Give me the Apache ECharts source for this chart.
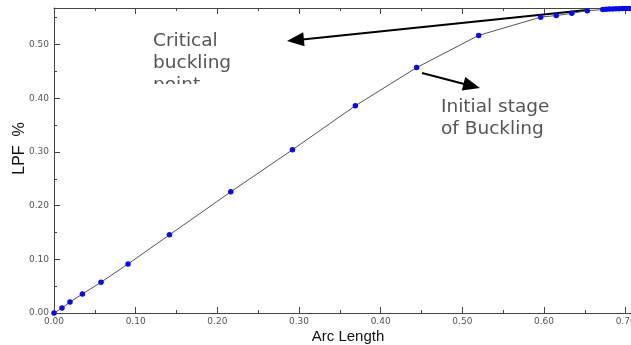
<!DOCTYPE html>
<html>
<head>
<meta charset="utf-8">
<script src="https://cdn.jsdelivr.net/npm/echarts@6/dist/echarts.min.js"></script>
<style>
html,body{margin:0;padding:0;background:#fff;}
#c{width:631px;height:345px;}
</style>
</head>
<body>
<div id="c"></div>
<script>
var arcLength = [0, 0.0098, 0.0196, 0.0348, 0.0576, 0.0907, 0.1414, 0.2165, 0.292, 0.369, 0.444, 0.52, 0.596, 0.615, 0.634, 0.653, 0.672, 0.676, 0.680, 0.684, 0.688, 0.692, 0.696, 0.700, 0.704, 0.708];
var lpf = [0, 0.0093, 0.0205, 0.0354, 0.0572, 0.0914, 0.1455, 0.2257, 0.304, 0.386, 0.457, 0.517, 0.551, 0.554, 0.558, 0.563, 0.565, 0.5655, 0.566, 0.566, 0.5665, 0.5665, 0.567, 0.567, 0.567, 0.567];
var xTickLabels = ['0.00', '0.10', '0.20', '0.30', '0.40', '0.50', '0.60', '0.70'];
var yTickLabels = ['0.00', '0.10', '0.20', '0.30', '0.40', '0.50'];

var points = arcLength.map(function (x, i) { return [x, lpf[i]]; });
var X_MIN = 0, X_MAX = 0.72, Y_MIN = 0, Y_MAX = 0.568;
var axisColor = '#444';
var labelStyle = { fontFamily: 'DejaVu Sans', fontSize: 9, color: '#555' };

function fmtX(v) {
  var i = Math.round(v * 10);
  return Math.abs(v * 10 - i) < 1e-6 && xTickLabels[i] !== undefined ? xTickLabels[i] : '';
}
function fmtY(v) {
  var i = Math.round(v * 10);
  return Math.abs(v * 10 - i) < 1e-6 && yTickLabels[i] !== undefined ? yTickLabels[i] : '';
}

function xAx(pos, major, showLabel, extra) {
  var o = {
    type: 'value', position: pos, min: X_MIN, max: X_MAX,
    interval: major ? 0.1 : 0.05,
    axisLine: { show: major, lineStyle: { color: axisColor, width: 1 } },
    axisTick: { show: true, inside: true, length: major ? 6 : 3, lineStyle: { color: axisColor } },
    axisLabel: showLabel ? Object.assign({ show: true, margin: 4, formatter: fmtX, showMaxLabel: false, hideOverlap: false }, labelStyle) : { show: false },
    splitLine: { show: false }
  };
  return Object.assign(o, extra || {});
}
function yAx(major, showLabel, extra) {
  var o = {
    type: 'value', position: 'left', min: Y_MIN, max: Y_MAX,
    interval: major ? 0.1 : 0.05,
    axisLine: { show: major, lineStyle: { color: axisColor, width: 1 } },
    axisTick: { show: true, inside: true, length: major ? 6 : 3, lineStyle: { color: axisColor } },
    axisLabel: showLabel ? Object.assign({ show: true, margin: 5, formatter: fmtY, showMaxLabel: false }, labelStyle) : { show: false },
    splitLine: { show: false }
  };
  return Object.assign(o, extra || {});
}

var chart = echarts.init(document.getElementById('c'), null, { renderer: 'canvas' });
chart.setOption({
  animation: false,
  backgroundColor: '#fff',
  grid: { left: 54, right: -11, top: 8, bottom: 32, containLabel: false, outerBoundsMode: 'none' },
  xAxis: [
    xAx('bottom', true, true, {
      name: 'Arc Length', nameLocation: 'middle', nameGap: 16, nameMoveOverlap: false,
      nameTextStyle: { fontFamily: 'Liberation Sans', fontSize: 15, color: '#111' }
    }),
    xAx('bottom', false, false),
    xAx('top', true, false),
    xAx('top', false, false)
  ],
  yAxis: [
    yAx(true, true, {
      name: 'LPF  %', nameLocation: 'middle', nameRotate: 90, nameGap: 26, nameMoveOverlap: false,
      nameTextStyle: { fontFamily: 'Liberation Sans', fontSize: 16, color: '#111', padding: [0, 0, 0, 24] }
    }),
    yAx(false, false)
  ],
  series: [{
    type: 'line',
    xAxisIndex: 0, yAxisIndex: 0,
    data: points,
    symbol: 'circle', symbolSize: 5.5,
    showSymbol: true,
    lineStyle: { color: '#555', width: 1 },
    itemStyle: { color: '#0a0ae6' },
    clip: false
  }],
  graphic: [
    { type: 'text', left: 153, top: 30, style: { text: 'Critical\nbuckling\npoint', fontFamily: 'DejaVu Sans', fontSize: 18.5, lineHeight: 22, fill: '#555' } },
    { type: 'rect', shape: { x: 148, y: 84, width: 100, height: 16 }, style: { fill: '#fff' } },
    { type: 'text', left: 441, top: 96, style: { text: 'Initial stage\nof Buckling', fontFamily: 'DejaVu Sans', fontSize: 18.5, lineHeight: 22, fill: '#555' } },
    { type: 'line', shape: { x1: 587, y1: 10, x2: 300, y2: 39.7 }, style: { stroke: '#000', lineWidth: 2 } },
    { type: 'polygon', shape: { points: [[287, 41], [304.6, 46.2], [303.2, 32.3]] }, style: { fill: '#000' } },
    { type: 'line', shape: { x1: 422, y1: 73, x2: 468, y2: 85 }, style: { stroke: '#000', lineWidth: 2 } },
    { type: 'polygon', shape: { points: [[480, 88], [461.75, 90.5], [465.25, 76.97]] }, style: { fill: '#000' } }
  ]
});
</script>
</body>
</html>
